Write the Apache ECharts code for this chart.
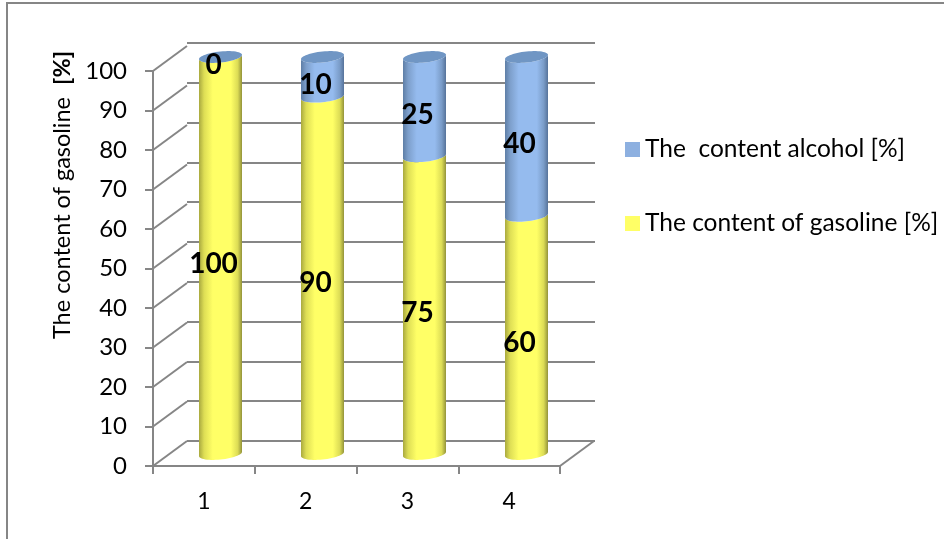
<!DOCTYPE html>
<html>
<head>
<meta charset="utf-8">
<style>html,body{margin:0;padding:0;background:#fff}#chart{width:944px;height:539px}</style>
<script src="https://cdn.jsdelivr.net/npm/echarts@6/dist/echarts.min.js"></script>
</head>
<body>
<div id="chart"></div>
<script>
// Blend composition per sample
const categories = ['1', '2', '3', '4'];
const gasoline = [100, 90, 75, 60];
const alcohol = [0, 10, 25, 40];
const yTicks = [0, 10, 20, 30, 40, 50, 60, 70, 80, 90, 100];
const gasolineName = 'The content of gasoline [%]';
const alcoholName = 'The  content alcohol [%]';

const FONT = 'Lato, "Open Sans", sans-serif';
const GREY = '#868686';
const DEPTH_X = 34, DEPTH_Y = 25;      // offset of the back wall from the front plane
const RX = 21.5, RY = 5.5, TILT = 0.1; // cylinder end ellipse

const yellowFill = {type:'linear',x:0,y:0,x2:1,y2:0,colorStops:[
  {offset:0,color:'#a9a93f'},{offset:.12,color:'#dede55'},{offset:.32,color:'#ffff66'},
  {offset:.74,color:'#ffff66'},{offset:.9,color:'#dcdc55'},{offset:1,color:'#93933a'}]};
const blueFill = {type:'linear',x:0,y:0,x2:1,y2:0,colorStops:[
  {offset:0,color:'#5e7ea6'},{offset:.12,color:'#7d9fcb'},{offset:.32,color:'#95bbee'},
  {offset:.74,color:'#95bbee'},{offset:.9,color:'#7a9cc8'},{offset:1,color:'#56739a'}]};

function ellipsePoint(cx, cy, t) {
  return [cx + RX * Math.cos(t), cy + RY * Math.sin(t) - TILT * RX * Math.cos(t)];
}
function frontArc(cx, cy, reverse) {
  const pts = [];
  for (let i = 0; i <= 28; i++) {
    const t = Math.PI * (reverse ? 28 - i : i) / 28;
    pts.push(ellipsePoint(cx, cy, t));
  }
  return pts;
}
function fullEllipse(cx, cy) {
  const pts = [];
  for (let i = 0; i < 56; i++) pts.push(ellipsePoint(cx, cy, Math.PI * i / 28));
  return pts;
}

// One stacked cylinder segment; `base` holds the values underneath it.
function cylinderSeries(name, values, base, fill, capFill, legendColor) {
  return {
    name, type: 'custom', xAxisIndex: 0, yAxisIndex: 0, z: 5,
    itemStyle: {color: legendColor},
    data: values.map((v, i) => [i, base[i], base[i] + v, v]),
    renderItem(params, api) {
      const low = api.coord([api.value(0), api.value(1)]);
      const high = api.coord([api.value(0), api.value(2)]);
      const cx = low[0];
      const children = [{
        type: 'polygon',
        shape: {points: frontArc(cx, low[1], false).concat(frontArc(cx, high[1], true))},
        style: {fill}
      }];
      if (capFill) {
        children.push({type: 'polygon', shape: {points: fullEllipse(cx, high[1])}, style: {fill: capFill}});
      }
      children.push({
        type: 'text', z2: 50,
        style: {
          x: cx - 7, y: (low[1] + high[1]) / 2 + 8,
          text: String(api.value(3)),
          font: 'bold 28px ' + FONT, fill: '#000',
          align: 'center', verticalAlign: 'middle'
        }
      });
      return {type: 'group', children};
    }
  };
}

const chart = echarts.init(document.getElementById('chart'), null, {renderer: 'canvas'});
chart.setOption({
  animation: false,
  backgroundColor: '#fff',
  grid: [
    {left: 169.5, top: 57, width: 408, height: 397},   // cylinders
    {left: 153, top: 71, width: 407, height: 395},     // front axes
    {left: 187, top: 43, width: 408, height: 398}      // back wall
  ],
  xAxis: [
    {gridIndex: 0, type: 'category', data: categories, show: false},
    {gridIndex: 1, type: 'category', data: categories,
      axisLine: {lineStyle: {color: GREY, width: 2}},
      axisTick: {show: true, length: 8, lineStyle: {color: GREY, width: 2}},
      axisLabel: {color: '#000', fontFamily: FONT, fontSize: 23, margin: 24}},
    {gridIndex: 2, type: 'category', data: categories, show: false}
  ],
  yAxis: [
    {gridIndex: 0, type: 'value', min: 0, max: 100, show: false},
    {gridIndex: 1, type: 'value', min: 0, max: 100, interval: 10,
      axisLine: {show: true, lineStyle: {color: GREY, width: 2}},
      axisTick: {show: true, length: 8, lineStyle: {color: GREY, width: 2}},
      axisLabel: {color: '#000', fontFamily: FONT, fontSize: 24, margin: 26},
      splitLine: {show: false}},
    {gridIndex: 2, type: 'value', min: 0, max: 100, interval: 10,
      axisLine: {show: false}, axisTick: {show: false}, axisLabel: {show: false},
      splitLine: {show: true, lineStyle: {color: GREY, width: 2}}}
  ],
  legend: {
    left: 625, top: 137, padding: 0, orient: 'vertical', itemGap: 49, itemWidth: 15, itemHeight: 15,
    icon: 'rect',
    data: [alcoholName, gasolineName],
    textStyle: {color: '#000', fontFamily: FONT, fontSize: 24.5}
  },
  graphic: [
    {type: 'polyline', silent: true,
      shape: {points: [[7, 539], [7, 3], [944, 3]]},
      style: {stroke: GREY, lineWidth: 2, fill: null}},
    {type: 'text', x: 62, y: 195, rotation: Math.PI / 2, silent: true,
      style: {
        text: 'The content of gasoline  {b|[%]}',
        font: '23.5px ' + FONT, fill: '#000', align: 'center', verticalAlign: 'middle',
        rich: {b: {font: 'bold 23.5px ' + FONT, fill: '#000'}}
      }}
  ],
  series: [
    // Side-wall and floor diagonals joining the front axis to the back wall
    {type: 'custom', xAxisIndex: 1, yAxisIndex: 1, silent: true, z: 1,
      data: yTicks.map(t => [0, t]),
      renderItem(params, api) {
        const y = api.coord([0, api.value(1)])[1];
        const x = params.coordSys.x;
        const segs = [{type: 'line', shape: {x1: x, y1: y, x2: x + DEPTH_X, y2: y - DEPTH_Y},
          style: {stroke: GREY, lineWidth: 2}}];
        if (api.value(1) === 0) {
          const xr = x + params.coordSys.width;
          segs.push({type: 'line', shape: {x1: xr, y1: y, x2: xr + DEPTH_X, y2: y - DEPTH_Y},
            style: {stroke: GREY, lineWidth: 2}});
        }
        return {type: 'group', children: segs};
      }},
    cylinderSeries(gasolineName, gasoline, gasoline.map(() => 0), yellowFill, null, '#ffff66'),
    cylinderSeries(alcoholName, alcohol, gasoline, blueFill, '#7096c4', '#8db0e0')
  ]
});
</script>
</body>
</html>
